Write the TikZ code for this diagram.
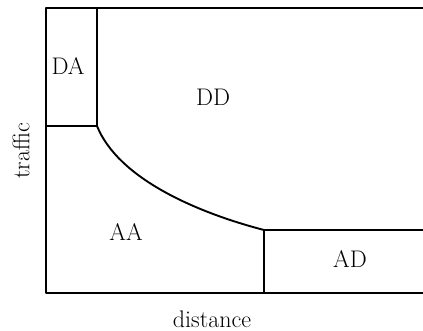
\documentclass[tikz,border=0pt]{standalone}
\usepackage{tikz}
\usetikzlibrary{positioning}

\begin{document}
\begin{tikzpicture}[
  x=1pt, y=-1pt,
  font=\fontsize{24}{28}\selectfont,
  ln/.style={line width=1.9pt, line cap=round, line join=round},
  lbl/.style={inner sep=0pt}
]
\useasboundingbox (0,0) rectangle (423,331);

% Eckpunkte
\coordinate (o)  at (46,293);
\coordinate (tl) at (46,8);
\coordinate (tr) at (423,8);
\coordinate (br) at (423,293);
\coordinate (k1) at (97,126);
\coordinate (k2) at (264,230);

% Achsen und Rahmen
\draw[ln] (tr) -- (tl) -- (o) -- (br);

% DA-Feld
\draw[ln] (97,8) -- (k1) -- (46,126);

% Grenzkurve
\draw[ln] (k1) .. controls (118,178) and (195,212) .. (k2);

% AD-Feld
\draw[ln] (k2) -- (423,230);
\draw[ln] (k2) -- (264,293);

% Beschriftungen
\node[lbl] (da) at (68,66)  {DA};
\node[lbl] (dd) at (213,97) {DD};
\node[lbl] (aa) at (126,232) {AA};
\node[lbl] (ad) at (350,259) {AD};
\node[lbl, rotate=90] (ytxt) at (21,151) {traffic};
\node[lbl] (xtxt) at (212,319) {distance};

\end{tikzpicture}
\end{document}
